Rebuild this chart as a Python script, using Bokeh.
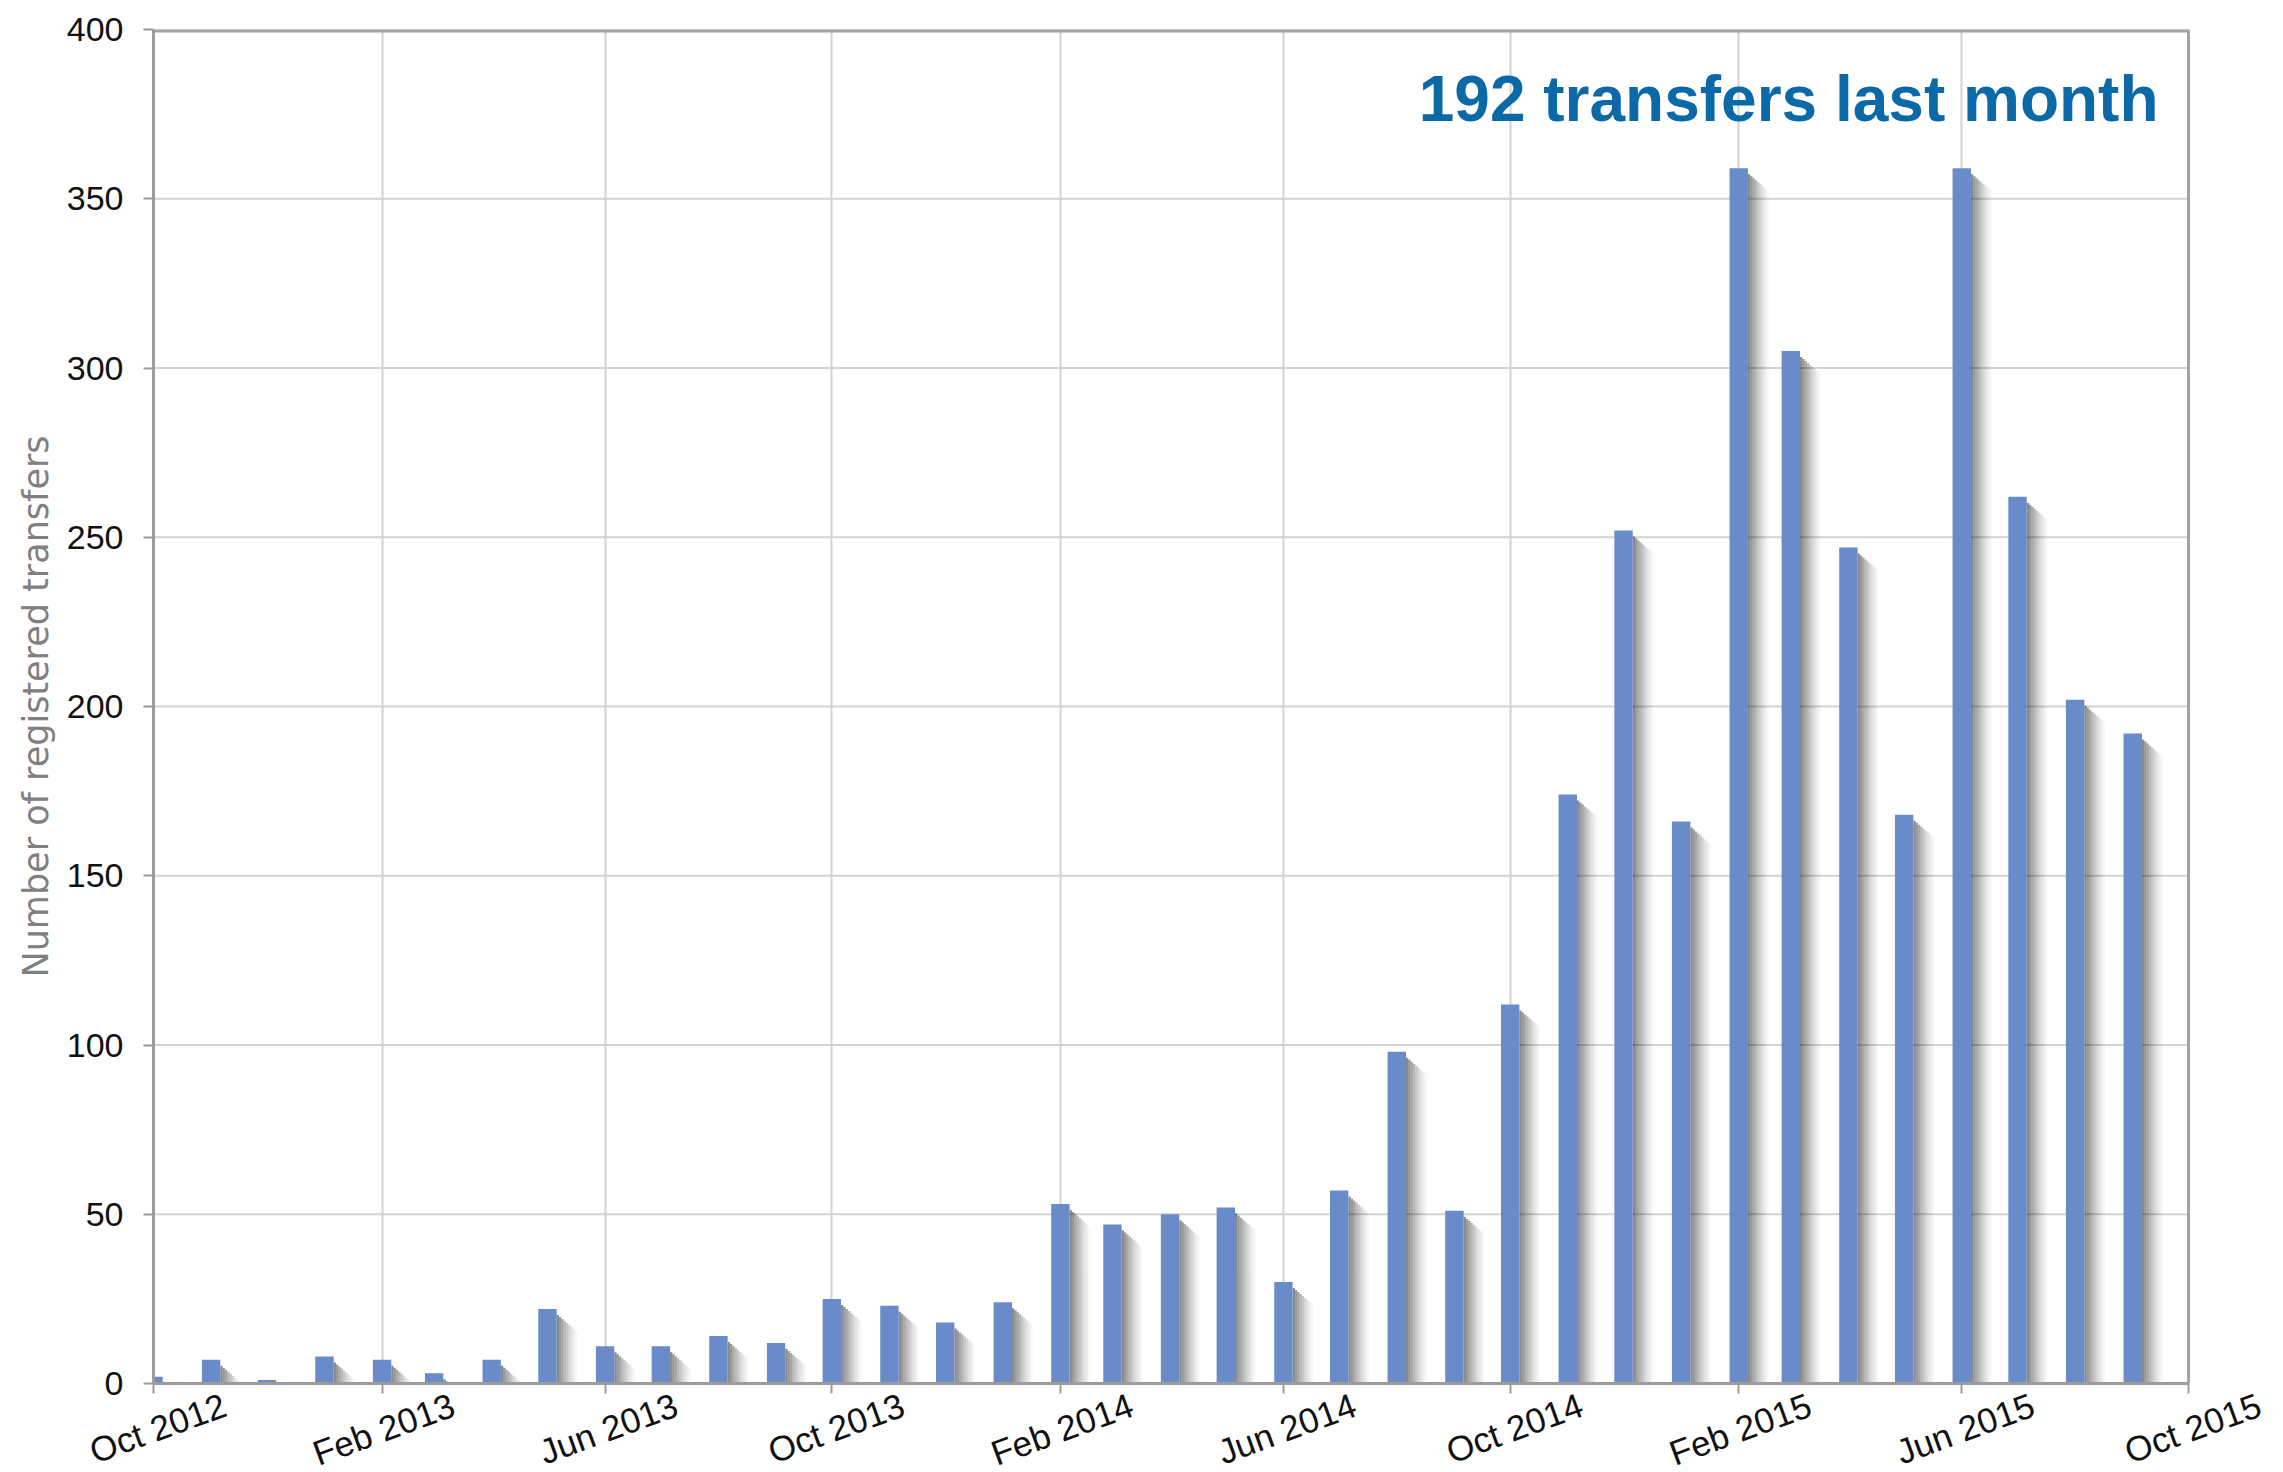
from datetime import datetime
from bokeh.plotting import figure
from bokeh.models import (ColumnDataSource, Label, FixedTicker, Range1d,
                          LinearAxis)
from bokeh.embed import file_html
from bokeh.resources import INLINE

# ---------------- data ----------------
months = ["2012-10", "2012-11", "2012-12", "2013-01", "2013-02", "2013-03",
          "2013-04", "2013-05", "2013-06", "2013-07", "2013-08", "2013-09",
          "2013-10", "2013-11", "2013-12", "2014-01", "2014-02", "2014-03",
          "2014-04", "2014-05", "2014-06", "2014-07", "2014-08", "2014-09",
          "2014-10", "2014-11", "2014-12", "2015-01", "2015-02", "2015-03",
          "2015-04", "2015-05", "2015-06", "2015-07", "2015-08", "2015-09"]
transfers = [2, 7, 1, 8, 7, 3, 7, 22, 11, 11, 14, 12,
             25, 23, 18, 24, 53, 47, 50, 52, 30, 57, 98, 51,
             112, 174, 252, 166, 359, 305, 247, 168, 359, 262, 202, 192]
tick_months = ["2012-10", "2013-02", "2013-06", "2013-10", "2014-02",
               "2014-06", "2014-10", "2015-02", "2015-06", "2015-10"]
tick_labels = ["Oct 2012", "Feb 2013", "Jun 2013", "Oct 2013", "Feb 2014",
               "Jun 2014", "Oct 2014", "Feb 2015", "Jun 2015", "Oct 2015"]
y_ticks = [0, 50, 100, 150, 200, 250, 300, 350, 400]
headline = "192 transfers last month"
y_label = "Number of registered transfers"

# ---------------- helpers ----------------
def ms(s):
    return int(datetime.strptime(s, "%Y-%m").timestamp()) * 1000

x_start, x_end = ms(tick_months[0]), ms(tick_months[-1])
y_start, y_end = 0, 400

W, H = 2275, 1499
ML, MT, MB = 153, 29, 116
PLOT_W = 2035                      # visible plot box width (px)
EXTRA = 85                         # invisible room right of the box for the last label
MR = W - ML - PLOT_W - EXTRA
FH = H - MT - MB
xpx = (x_end - x_start) / PLOT_W   # data units per pixel (x)
ypx = (y_end - y_start) / FH       # data units per pixel (y)
x_far = x_end + int(EXTRA * xpx)

xs = [ms(m) for m in months]
half = 9.2 * xpx
border = "#a3a3a3"

p = figure(width=W, height=H, x_axis_type="datetime",
           x_range=Range1d(x_start, x_far), y_range=Range1d(y_start, y_end),
           output_backend="svg", toolbar_location=None,
           min_border_left=ML, min_border_right=MR,
           min_border_top=MT, min_border_bottom=MB)

p.background_fill_color = "white"
p.border_fill_color = "white"
p.outline_line_color = None

# horizontal grid lines, limited to the plot box
p.segment(x0=[x_start] * len(y_ticks), x1=[x_end] * len(y_ticks),
          y0=y_ticks, y1=y_ticks, line_color="#d3d3d3", line_width=2)
p.ygrid.grid_line_color = None
p.xgrid.grid_line_color = "#d3d3d3"
p.xgrid.grid_line_width = 2

# drop shadows (gradient strips to the right of each bar)
alphas = [0.46, 0.40, 0.34, 0.28, 0.22, 0.16, 0.11, 0.07, 0.03]
sw = 2.3 * xpx
for k, a in enumerate(alphas):
    drop = (6 + k * 2.0) * ypx
    src = ColumnDataSource(dict(
        left=[x + half + k * sw for x in xs],
        right=[x + half + (k + 1) * sw for x in xs],
        top=[max(v - drop, 0) for v in transfers],
        bottom=[0] * len(xs)))
    p.quad(left="left", right="right", top="top", bottom="bottom", source=src,
           fill_color="black", fill_alpha=a, line_color=None)

bars = ColumnDataSource(dict(
    left=[x - half for x in xs], right=[x + half for x in xs],
    top=transfers, bottom=[0] * len(xs)))
p.quad(left="left", right="right", top="top", bottom="bottom", source=bars,
       fill_color="#6a8bca", line_color=None)

# box border: top and right edges
p.segment(x0=[x_start], x1=[x_end], y0=[y_end], y1=[y_end],
          line_color=border, line_width=6)
p.segment(x0=[x_end], x1=[x_end], y0=[y_start], y1=[y_end],
          line_color=border, line_width=3)

# axes
tick_ms = [ms(t) for t in tick_months]
p.xaxis.ticker = FixedTicker(ticks=tick_ms)
p.xaxis.bounds = (x_start, x_end)
p.xaxis.major_label_overrides = {t: "" for t in tick_ms}
p.xaxis.major_label_text_font_size = "1px"
p.xaxis.major_label_standoff = 0
p.yaxis.ticker = FixedTicker(ticks=y_ticks)
for ax in (p.xaxis, p.yaxis):
    ax.axis_line_color = "#9c9c9c"
    ax.axis_line_width = 3
    ax.major_tick_line_color = "#9c9c9c"
    ax.major_tick_line_width = 2
    ax.major_tick_out = 10
    ax.major_tick_in = 0
    ax.minor_tick_line_color = None

p.yaxis.major_label_text_font = "Liberation Sans"
p.yaxis.major_label_text_font_size = "34px"
p.yaxis.major_label_text_color = "#111111"
p.yaxis.major_label_standoff = 20
p.yaxis.axis_label = y_label
p.yaxis.axis_label_text_font = "DejaVu Sans"
p.yaxis.axis_label_text_font_size = "35px"
p.yaxis.axis_label_text_font_style = "normal"
p.yaxis.axis_label_text_color = "#808080"
p.yaxis.axis_label_standoff = 8

# rotated x tick labels: an extra label-only axis whose ticks are shifted so
# that the right-anchored rotated labels end up centred under the real ticks
shift = int(71 * xpx)
lab_pos = [t + shift for t in tick_ms]
lab_axis = LinearAxis(
    ticker=FixedTicker(ticks=lab_pos),
    major_label_overrides={k: v for k, v in zip(lab_pos, tick_labels)},
    major_label_orientation=0.35,
    major_label_standoff=10,
    major_label_text_font="Liberation Sans",
    major_label_text_font_size="35px",
    major_label_text_color="#111111",
    axis_line_color=None, major_tick_line_color=None,
    minor_tick_line_color=None, major_tick_out=0, major_tick_in=0)
p.add_layout(lab_axis, "below")

# headline
p.add_layout(Label(x=x_end - 30 * xpx, y=y_end - 69 * ypx, text=headline,
                   text_align="right", text_baseline="alphabetic",
                   text_font="Liberation Sans", text_font_style="bold",
                   text_font_size="64px", text_color="#0a69a6"))

open("out.html", "w").write(file_html(p, INLINE))
